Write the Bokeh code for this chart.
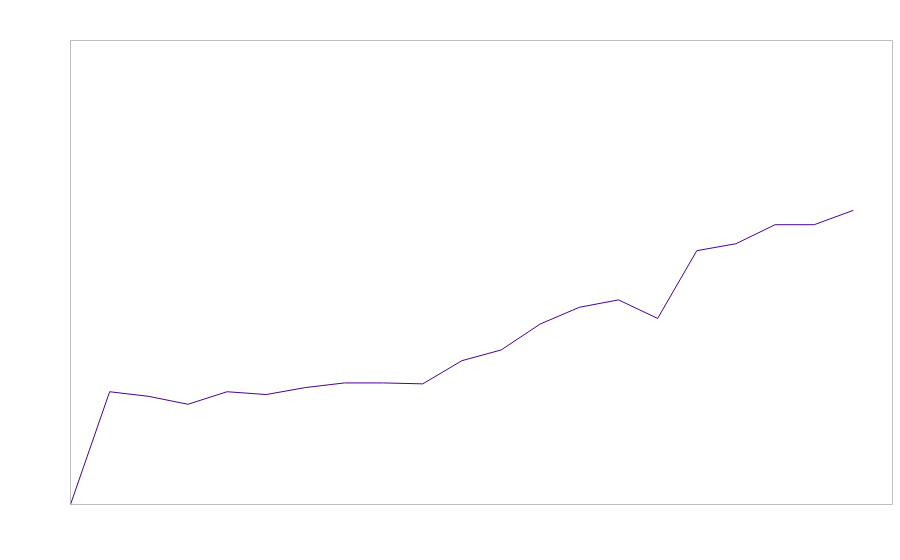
from bokeh.plotting import figure
from bokeh.models import Range1d
from bokeh.embed import file_html
from bokeh.resources import INLINE

x_values = list(range(21))
y_values = [0.0, 24.3, 23.3, 21.6, 24.3, 23.7, 25.2, 26.2, 26.2, 26.0, 31.0,
            33.3, 38.9, 42.5, 44.1, 40.1, 54.7, 56.2, 60.3, 60.3, 63.4]

p = figure(width=898, height=548, output_backend="svg", toolbar_location=None,
           x_range=Range1d(0, 21), y_range=Range1d(0, 100),
           x_axis_location=None, y_axis_location=None,
           min_border_left=70, min_border_top=40, min_border_right=6, min_border_bottom=44)
p.grid.visible = False
p.outline_line_color = "#bdbdbd"
p.outline_line_width = 1
p.background_fill_color = "white"
p.border_fill_color = "white"

p.line(x_values, y_values, line_color="#4b0092", line_width=1)

open("out.html", "w").write(file_html(p, INLINE))
